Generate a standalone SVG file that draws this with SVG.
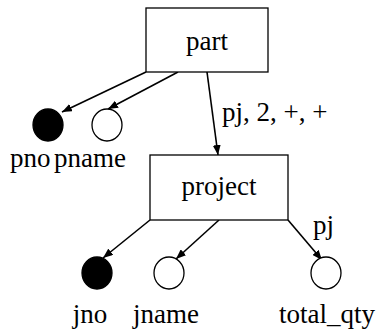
<svg xmlns="http://www.w3.org/2000/svg" width="381" height="332" viewBox="0 0 381 332">
<defs>
<marker id="ah" markerWidth="10" markerHeight="8" refX="10" refY="4" orient="auto" markerUnits="userSpaceOnUse" viewBox="0 0 10 8">
<path d="M0,0 L10,4 L0,8 Z" fill="#000"/>
</marker>
<style>
text{font-family:'Liberation Serif','Times New Roman',serif;font-size:27px;fill:#000}
.box{fill:#fff;stroke:#000;stroke-width:1.3}
.attr{fill:#fff;stroke:#000;stroke-width:1.3}
.key{fill:#000;stroke:#000;stroke-width:1.3}
.edge{fill:none;stroke:#000;stroke-width:1.6;marker-end:url(#ah)}
</style>
</defs>
<rect width="381" height="332" fill="#fff"/>
<g id="connectors">
<line class="edge" x1="146" y1="72" x2="62" y2="112"/>
<line class="edge" x1="178" y1="72" x2="108" y2="109"/>
<line class="edge" x1="207" y1="72" x2="218" y2="155"/>
<text x="222" y="121">pj, 2, +, +</text>
<line class="edge" x1="150" y1="220" x2="103" y2="258"/>
<line class="edge" x1="219" y1="220" x2="176" y2="259"/>
<line class="edge" x1="288" y1="220" x2="322" y2="260"/>
<text x="313" y="234">pj</text>
</g>
<g id="part">
<rect class="box" x="146" y="8" width="122" height="64"/>
<text x="207" y="50" text-anchor="middle">part</text>
</g>
<g id="project">
<rect class="box" x="150" y="155" width="138" height="65"/>
<text x="219" y="195" text-anchor="middle">project</text>
</g>
<g id="pno">
<ellipse class="key" cx="48" cy="125" rx="15" ry="16"/>
<text x="10" y="167">pno</text>
</g>
<g id="pname">
<ellipse class="attr" cx="107" cy="125" rx="15" ry="16"/>
<text x="54" y="167">pname</text>
</g>
<g id="jno">
<ellipse class="key" cx="97" cy="273" rx="15" ry="16"/>
<text x="90" y="323" text-anchor="middle">jno</text>
</g>
<g id="jname">
<ellipse class="attr" cx="169" cy="273" rx="15" ry="16"/>
<text x="166" y="323" text-anchor="middle">jname</text>
</g>
<g id="total_qty">
<ellipse class="attr" cx="326" cy="273" rx="15" ry="16"/>
<text x="327" y="323" text-anchor="middle">total_qty</text>
</g>
</svg>
